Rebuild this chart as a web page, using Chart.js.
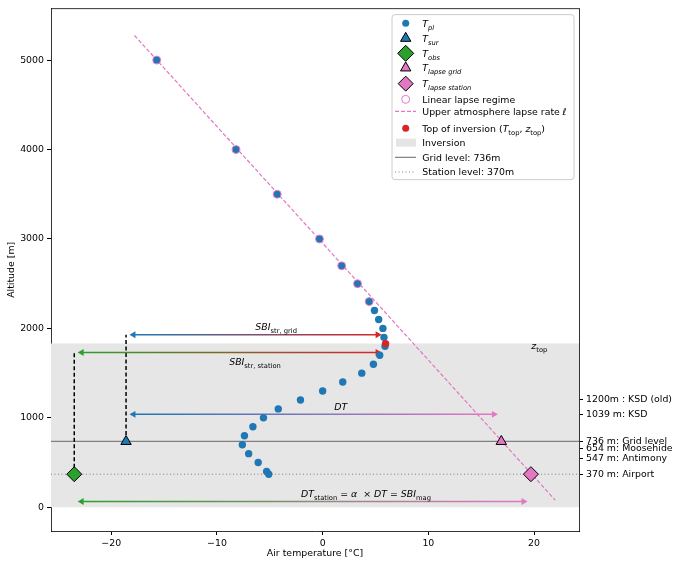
<!DOCTYPE html>
<html>
<head>
<meta charset="utf-8">
<script src="https://cdn.jsdelivr.net/npm/chart.js@4/dist/chart.umd.min.js"></script>
<style>
  html, body { margin: 0; padding: 0; background: #fff; }
  #wrap { width: 680px; height: 567px; }
</style>
</head>
<body>
<div id="wrap"><canvas id="chart" width="680" height="567"></canvas></div>
<script>
// axis ticks
const xTicks = [-20, -10, 0, 10, 20];
const yTicks = [0, 1000, 2000, 3000, 4000, 5000];
const siteAlt = [1200, 1039, 736, 654, 547, 370];
const siteLabels = ["1200m : KSD (old)", "1039 m: KSD", "736 m: Grid level", "654 m: Moosehide", "547 m: Antimony", "370 m: Airport"];

// pressure level profile (T_pl)
const plAlt = [5000, 4000, 3500, 3000, 2700, 2500, 2300, 2200, 2100, 2000, 1900, 1800, 1700, 1600, 1500, 1400, 1300, 1200, 1100, 1000, 900, 800, 700, 600, 500, 400, 370];
const plTemp = [-15.7, -8.2, -4.3, -0.3, 1.8, 3.3, 4.4, 4.9, 5.3, 5.7, 5.8, 5.9, 5.4, 4.8, 3.7, 1.9, 0.0, -2.1, -4.2, -5.6, -6.6, -7.4, -7.6, -7.0, -6.1, -5.3, -5.1];
const nLinear = 7; // first points that sit on the lapse line

// upper atmosphere lapse line
const lapseTemp = [-17.8, 22.0];
const lapseAlt = [5275, 80];

// levels and single values
const zTop = 1830, tTop = 5.95;
const gridLevel = 736, stationLevel = 370;
const tSur = -18.6, tObs = -23.5, tLapseGrid = 16.9, tLapseStation = 19.7;
const xLim = [-25.7, 24.25], yLim = [-265, 5575];

// arrows: [start T, end T, altitude]
const sbiGrid = [-17.9, 5.2, zTop + 100];
const sbiStation = [-22.8, 5.2, zTop - 100];
const dtArrow = [-17.9, 16.2, 1039];
const dtStation = [-22.8, 19.0, 65];

const BLUE = "#1f77b4", RED = "#d62728", GREEN = "#2ca02c", PINK = "#e377c2", GRAY = "#808080";
const FONT = "DejaVu Sans";
const FS = 9.4;

Chart.defaults.font.family = FONT;
Chart.defaults.font.size = FS;
Chart.defaults.color = "#000";

const pts = (xs, ys) => xs.map((x, i) => ({ x: x, y: ys[i] }));

function arrow(a, c0, c1) {
  return {
    data: [{ x: a[0], y: a[2] }, { x: a[1], y: a[2] }],
    borderWidth: 1.5,
    borderColor: c => {
      const ch = c.chart, sx = ch.scales.x;
      if (!ch.chartArea || !sx) return c0;
      const g = ch.ctx.createLinearGradient(sx.getPixelForValue(a[0]), 0, sx.getPixelForValue(a[1]), 0);
      g.addColorStop(0, c0);
      g.addColorStop(1, c1);
      return g;
    },
    pointStyle: "triangle",
    pointRotation: [-90, 90],
    pointRadius: 4,
    pointBorderWidth: 0,
    pointBackgroundColor: [c0, c1],
    pointBorderColor: [c0, c1],
    order: 70
  };
}

function hline(y, color, dash, width) {
  return {
    data: [{ x: xLim[0], y: y }, { x: xLim[1], y: y }],
    borderColor: color, borderWidth: width, borderDash: dash,
    pointRadius: 0, order: 90
  };
}

function marker(x, y, style, r, color) {
  return {
    data: [{ x: x, y: y }], showLine: false,
    pointStyle: style, pointRadius: r,
    pointBackgroundColor: color, pointBorderColor: "#000", pointBorderWidth: 1,
    order: 30
  };
}

// rich text: parts = [text, style], style "i" italic, "r" roman, "si"/"sr" subscript
function drawRich(ctx, parts, x, y, size, align) {
  const fonts = parts.map(([t, s]) => {
    const sub = s[0] === "s";
    return (s.includes("i") ? "italic " : "") + (sub ? size * 0.72 : size) + "px \"" + FONT + "\"";
  });
  let w = 0;
  parts.forEach(([t], k) => { ctx.font = fonts[k]; w += ctx.measureText(t).width; });
  let cx = align === "center" ? x - w / 2 : x;
  ctx.textAlign = "left";
  ctx.textBaseline = "alphabetic";
  parts.forEach(([t, s], k) => {
    ctx.font = fonts[k];
    const dy = s[0] === "s" ? size * 0.3 : 0;
    ctx.fillText(t, cx, y + size * 0.36 + dy);
    cx += ctx.measureText(t).width;
  });
}

const annotations = {
  id: "annotations",
  afterDatasetsDraw(chart) {
    const { ctx, scales: { x, y } } = chart;
    const px = v => x.getPixelForValue(v), py = v => y.getPixelForValue(v);
    ctx.save();
    ctx.fillStyle = "#000";
    drawRich(ctx, [["SBI", "i"], ["str, grid", "sr"]], px(-4.4), py(zTop + 187), FS, "center");
    drawRich(ctx, [["SBI", "i"], ["str, station", "sr"]], px(-6.4), py(zTop - 203), FS, "center");
    drawRich(ctx, [["DT", "i"]], px(1.7), py(1127), FS, "center");
    drawRich(ctx, [["DT", "i"], ["station", "sr"], [" = ", "r"], ["α", "i"], ["  × ", "r"], ["DT", "i"], [" = ", "r"], ["SBI", "i"], ["mag", "sr"]], px(4.1), py(148), FS, "center");
    drawRich(ctx, [["z", "i"], ["top", "sr"]], px(20.5), py(zTop - 25), FS, "center");
    ctx.restore();
  }
};

const legendBox = {
  id: "legendBox",
  afterDraw(chart) {
    const { ctx, chartArea: a } = chart;
    const H = Chart.helpers;
    const bw = 182, bh = 165;
    const bx = a.right - 5 - bw, by = a.top + 6;
    ctx.save();
    ctx.beginPath();
    if (ctx.roundRect) ctx.roundRect(bx, by, bw, bh, 3); else ctx.rect(bx, by, bw, bh);
    ctx.fillStyle = "rgba(255,255,255,0.85)";
    ctx.fill();
    ctx.strokeStyle = "#cccccc";
    ctx.lineWidth = 1;
    ctx.stroke();

    const mx = bx + 13.7, tx = bx + 30.3;
    const dot = (yy, style, r, fill, stroke, bwid) => {
      ctx.fillStyle = fill;
      ctx.strokeStyle = stroke;
      ctx.lineWidth = bwid;
      ctx.beginPath();
      H.drawPoint(ctx, { pointStyle: style, radius: r, rotation: 0, borderWidth: bwid }, mx, yy);
    };
    const seg = (yy, color, dash, width) => {
      ctx.beginPath();
      ctx.strokeStyle = color;
      ctx.lineWidth = width;
      ctx.setLineDash(dash);
      ctx.moveTo(bx + 3, yy);
      ctx.lineTo(bx + 24, yy);
      ctx.stroke();
      ctx.setLineDash([]);
    };
    const rows = [8.7, 23.7, 38.7, 53.3, 69, 84.7, 96.7, 113.7, 128, 142.7, 157.3].map(v => by + v);

    dot(rows[0], "circle", 3.5, BLUE, BLUE, 0);
    dot(rows[1], "triangle", 6, BLUE, "#000", 1);
    dot(rows[2], "rectRot", 8, GREEN, "#000", 1);
    dot(rows[3], "triangle", 6, PINK, "#000", 1);
    dot(rows[4], "rectRot", 7.5, PINK, "#000", 1);
    dot(rows[5], "circle", 4, "rgba(0,0,0,0)", PINK, 1);
    seg(rows[6], PINK, [4, 2], 1.2);
    dot(rows[7], "circle", 3.5, RED, RED, 0);
    ctx.fillStyle = "#e5e5e5";
    ctx.fillRect(bx + 4, rows[8] - 4, 20, 8);
    seg(rows[9], GRAY, [], 1.2);
    seg(rows[10], GRAY, [1, 2.5], 1);

    ctx.fillStyle = "#000";
    drawRich(ctx, [["T", "i"], ["pl", "si"]], tx, rows[0], FS);
    drawRich(ctx, [["T", "i"], ["sur", "si"]], tx, rows[1], FS);
    drawRich(ctx, [["T", "i"], ["obs", "si"]], tx, rows[2], FS);
    drawRich(ctx, [["T", "i"], ["lapse grid", "si"]], tx, rows[3], FS);
    drawRich(ctx, [["T", "i"], ["lapse station", "si"]], tx, rows[4], FS);
    drawRich(ctx, [["Linear lapse regime", "r"]], tx, rows[5], FS);
    drawRich(ctx, [["Upper atmosphere lapse rate ", "r"], ["ℓ", "i"]], tx, rows[6], FS);
    drawRich(ctx, [["Top of inversion (", "r"], ["T", "i"], ["top", "sr"], [", ", "r"], ["z", "i"], ["top", "sr"], [")", "r"]], tx, rows[7], FS);
    drawRich(ctx, [["Inversion", "r"]], tx, rows[8], FS);
    drawRich(ctx, [["Grid level: 736m", "r"]], tx, rows[9], FS);
    drawRich(ctx, [["Station level: 370m", "r"]], tx, rows[10], FS);
    ctx.restore();
  }
};

const frame = {
  id: "frame",
  afterDraw(chart) {
    const { ctx, chartArea: a } = chart;
    ctx.save();
    ctx.strokeStyle = "#000";
    ctx.lineWidth = 0.8;
    ctx.beginPath();
    ctx.moveTo(a.left, a.top);
    ctx.lineTo(a.right, a.top);
    ctx.stroke();
    ctx.restore();
  }
};

const minus = v => String(v).replace("-", "\u2212");

const ctx = document.getElementById("chart").getContext("2d");
new Chart(ctx, {
  type: "line",
  data: {
    datasets: [
      // inversion layer
      {
        data: [{ x: xLim[0], y: zTop }, { x: xLim[1], y: zTop }],
        fill: { value: 0 }, backgroundColor: "#e6e6e6",
        borderWidth: 0, borderColor: "rgba(0,0,0,0)", pointRadius: 0, order: 100
      },
      hline(gridLevel, GRAY, [], 1.2),
      hline(stationLevel, GRAY, [1, 2.5], 1),
      // upper atmosphere lapse rate
      {
        data: pts(lapseTemp, lapseAlt),
        borderColor: PINK, borderWidth: 1.2, borderDash: [4, 2], pointRadius: 0, order: 80
      },
      // dashed verticals from surface values
      {
        data: [{ x: tSur, y: gridLevel }, { x: tSur, y: sbiGrid[2] }],
        borderColor: "#000", borderWidth: 1.5, borderDash: [4, 2.5], pointRadius: 0, order: 75
      },
      {
        data: [{ x: tObs, y: stationLevel }, { x: tObs, y: sbiStation[2] }],
        borderColor: "#000", borderWidth: 1.5, borderDash: [4, 2.5], pointRadius: 0, order: 75
      },
      arrow(sbiGrid, BLUE, RED),
      arrow(sbiStation, GREEN, RED),
      arrow(dtArrow, BLUE, PINK),
      arrow(dtStation, GREEN, PINK),
      // T_pl
      {
        data: pts(plTemp, plAlt), showLine: false,
        pointRadius: 3.7, pointBackgroundColor: BLUE, pointBorderColor: BLUE, pointBorderWidth: 0, order: 50
      },
      // linear lapse regime
      {
        data: pts(plTemp.slice(0, nLinear), plAlt.slice(0, nLinear)), showLine: false,
        pointRadius: 4, pointBackgroundColor: "rgba(0,0,0,0)", pointBorderColor: PINK, pointBorderWidth: 1, order: 45
      },
      // top of inversion
      {
        data: [{ x: tTop, y: zTop }], showLine: false,
        pointRadius: 3.7, pointBackgroundColor: RED, pointBorderColor: RED, pointBorderWidth: 0, order: 40
      },
      marker(tSur, gridLevel, "triangle", 6, BLUE),
      marker(tObs, stationLevel, "rectRot", 7.5, GREEN),
      marker(tLapseGrid, gridLevel, "triangle", 6, PINK),
      marker(tLapseStation, stationLevel, "rectRot", 7.5, PINK)
    ]
  },
  options: {
    responsive: false,
    animation: false,
    events: [],
    layout: { padding: { top: 6, right: 0, bottom: 0, left: 0 } },
    plugins: { legend: { display: false }, tooltip: { enabled: false } },
    scales: {
      x: {
        type: "linear", min: xLim[0], max: xLim[1],
        afterBuildTicks: s => { s.ticks = xTicks.map(v => ({ value: v })); },
        afterFit: s => { s.height = 36; },
        ticks: { callback: minus, autoSkip: false, maxRotation: 0, padding: 3 },
        grid: { drawOnChartArea: false, tickLength: 4, tickColor: "#000" },
        border: { color: "#000", width: 0.8 },
        title: { display: true, text: "Air temperature [°C]", padding: { top: 4, bottom: 8 } }
      },
      y: {
        type: "linear", position: "left", min: yLim[0], max: yLim[1],
        afterBuildTicks: s => { s.ticks = yTicks.map(v => ({ value: v })); },
        afterFit: s => { s.width = 51; },
        ticks: { callback: v => String(v), autoSkip: false, padding: 3 },
        grid: { drawOnChartArea: false, tickLength: 4, tickColor: "#000" },
        border: { color: "#000", width: 0.8 },
        title: { display: true, text: "Altitude [m]", padding: { top: 6, bottom: 4 } }
      },
      y2: {
        type: "linear", position: "right", min: yLim[0], max: yLim[1],
        afterBuildTicks: s => { s.ticks = siteAlt.map(v => ({ value: v })); },
        afterFit: s => { s.width = 101; },
        ticks: { callback: v => siteLabels[siteAlt.indexOf(v)], autoSkip: false, padding: 3 },
        grid: { drawOnChartArea: false, tickLength: 4, tickColor: "#000" },
        border: { color: "#000", width: 0.8 }
      }
    }
  },
  plugins: [annotations, legendBox, frame]
});
</script>
</body>
</html>
